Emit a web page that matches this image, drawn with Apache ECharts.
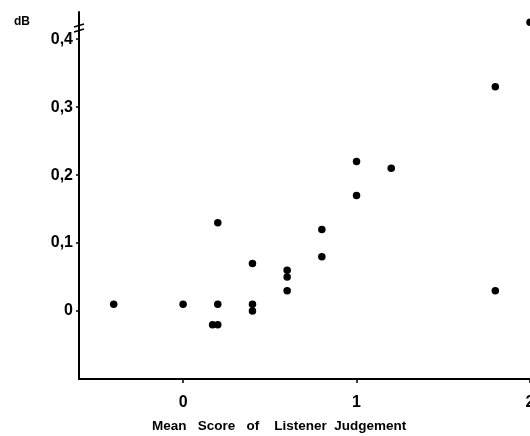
<!DOCTYPE html>
<html>
<head>
<meta charset="utf-8">
<script src="https://cdn.jsdelivr.net/npm/echarts@6/dist/echarts.min.js"></script>
<style>
html,body{margin:0;padding:0;background:#fff;}
#chart{width:530px;height:436px;}
</style>
</head>
<body>
<div id="chart"></div>
<script>
// Data
const scoreX = [-0.4, 0.0, 0.2, 0.2, 0.17, 0.2, 0.4, 0.4, 0.4, 0.6, 0.6, 0.6, 0.8, 0.8, 1.0, 1.0, 1.2, 1.8, 1.8, 2.0];
const dbY    = [0.01, 0.01, 0.13, 0.01, -0.02, -0.02, 0.07, 0.01, 0.0, 0.06, 0.05, 0.03, 0.12, 0.08, 0.22, 0.17, 0.21, 0.33, 0.03, 0.425];
const xTickValues = [0, 1, 2];
const xTickLabels = ['0', '1', '2'];
const yTickValues = [0, 0.1, 0.2, 0.3, 0.4];
const yTickLabels = ['0', '0,1', '0,2', '0,3', '0,4'];

const points = scoreX.map((x, i) => [x, dbY[i]]);
const FONT = '"Liberation Sans", Arial, sans-serif';

const chart = echarts.init(document.getElementById('chart'), null, {renderer: 'canvas'});
chart.setOption({
  animation: false,
  backgroundColor: '#fff',
  title: [
    {text: 'dB', left: 9, top: 11, textStyle: {fontFamily: FONT, fontWeight: 'bold', fontSize: 12, color: '#000'}},
    {text: 'Mean   Score   of    Listener  Judgement', left: 147, top: 414,
     textStyle: {fontFamily: FONT, fontWeight: 'bold', fontSize: 13.5, color: '#000'}}
  ],
  grid: {left: 79, right: 0, top: 12, bottom: 57, containLabel: false, outerBoundsMode: 'none'},
  xAxis: {
    type: 'value', min: -0.6, max: 2,
    splitLine: {show: false},
    axisLine: {show: true, onZero: false, lineStyle: {color: '#000', width: 2}},
    axisTick: {show: true, length: 4, customValues: xTickValues, lineStyle: {color: '#000', width: 1.5}},
    axisLabel: {
      customValues: xTickValues, margin: 16,
      formatter: v => { const i = xTickValues.findIndex(t => Math.abs(t - v) < 1e-9); return i >= 0 ? xTickLabels[i] : ''; },
      fontFamily: FONT, fontWeight: 'bold', fontSize: 16, color: '#000'
    }
  },
  yAxis: {
    type: 'value', min: -0.1, max: 0.44,
    splitLine: {show: false},
    axisLine: {show: true, onZero: false, lineStyle: {color: '#000', width: 2}},
    axisTick: {show: true, length: 3, customValues: yTickValues, lineStyle: {color: '#000', width: 1.5}},
    axisLabel: {
      customValues: yTickValues, margin: 6,
      formatter: v => { const i = yTickValues.findIndex(t => Math.abs(t - v) < 1e-9); return i >= 0 ? yTickLabels[i] : ''; },
      fontFamily: FONT, fontWeight: 'bold', fontSize: 16, color: '#000'
    }
  },
  graphic: [
    {type: 'line', shape: {x1: 74, y1: 27, x2: 84, y2: 24}, style: {stroke: '#000', lineWidth: 1.5}},
    {type: 'line', shape: {x1: 74, y1: 32, x2: 84, y2: 29}, style: {stroke: '#000', lineWidth: 1.5}}
  ],
  series: [{
    type: 'scatter',
    data: points,
    symbol: 'circle',
    symbolSize: 7.5,
    itemStyle: {color: '#000', opacity: 1},
    clip: false
  }]
});
</script>
</body>
</html>
